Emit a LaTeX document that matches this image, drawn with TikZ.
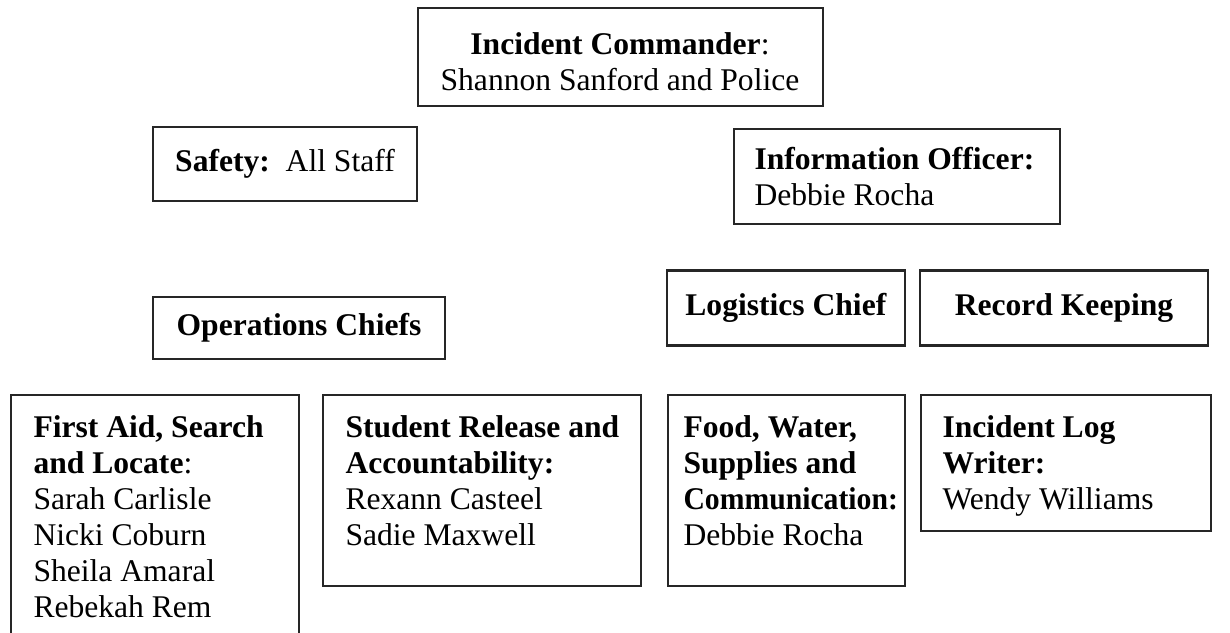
\documentclass[tikz,border=0pt]{standalone}
\usepackage{fontspec}
\usepackage{graphicx}
\setmainfont{Liberation Serif}
\begin{document}
\begin{tikzpicture}[x=0.38pt,y=-0.38pt,
  box/.style={draw=black!85,line width=0.8pt,inner sep=0pt},
  txt/.style={inner sep=0pt,align=left,anchor=north west,font=\fontsize{12}{13.7}\selectfont},
  ctxt/.style={box,align=center,font=\fontsize{12}{13.7}\selectfont}]
\useasboundingbox[fill=white] (0,0) rectangle (1230,633);
% top
\node[box,minimum width=405*0.38pt,minimum height=98*0.38pt] (ic) at (620.5,57) {};
\node[inner sep=0pt,align=center,font=\fontsize{12}{13.7}\selectfont] (ict) at (620,62)
  {\textbf{Incident Commander}:\\Shannon Sanford and Police};
\node[ctxt,minimum width=264*0.38pt,minimum height=74*0.38pt] (safety) at (285,164)
  {\textbf{Safety:}\ \ All Staff};
\node[box,minimum width=326*0.38pt,minimum height=95*0.38pt,anchor=north west] (info) at (733,128) {};
\node[txt] (infot) at (754,147) {\textbf{Information Officer:}\\Debbie Rocha};
% middle
\node[ctxt,minimum width=292*0.38pt,minimum height=62*0.38pt] (ops) at (299,328)
  {\textbf{Operations Chiefs}};
\node[ctxt,minimum width=238*0.38pt,minimum height=75*0.38pt] (log) at (786,308)
  {\textbf{Logistics Chief}};
\node[ctxt,minimum width=288*0.38pt,minimum height=75*0.38pt] (rec) at (1064,308)
  {\textbf{Record Keeping}};
% bottom
\node[box,minimum width=288*0.38pt,minimum height=250*0.38pt,anchor=north west] (aid) at (10,394) {};
\node[txt] (aidt) at (33,415) {\textbf{First Aid, Search}\\\textbf{and Locate}:\\Sarah Carlisle\\Nicki Coburn\\Sheila Amaral\\Rebekah Rem};
\node[box,minimum width=318*0.38pt,minimum height=191*0.38pt,anchor=north west] (stu) at (322,394) {};
\node[txt] (stut) at (345,415) {\textbf{Student Release and}\\\textbf{Accountability:}\\Rexann Casteel\\Sadie Maxwell};
\node[box,minimum width=237*0.38pt,minimum height=191*0.38pt,anchor=north west] (food) at (667,394) {};
\node[txt] (foodt) at (683,415) {\textbf{Food, Water,}\\\textbf{Supplies and}\\\scalebox{0.94}[1]{\textbf{Communication:}}\\Debbie Rocha};
\node[box,minimum width=290*0.38pt,minimum height=136*0.38pt,anchor=north west] (logw) at (920,394) {};
\node[txt] (logwt) at (942,415) {\textbf{Incident Log}\\\textbf{Writer:}\\Wendy Williams};
\end{tikzpicture}
\end{document}
